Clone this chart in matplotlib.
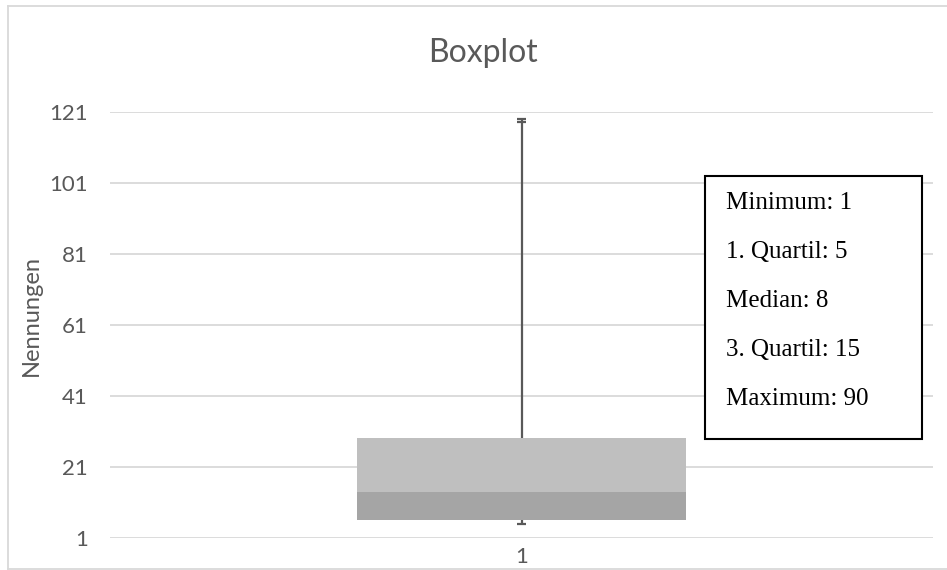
import matplotlib
matplotlib.use("Agg")
import matplotlib.pyplot as plt
from matplotlib.patches import Rectangle
from matplotlib.lines import Line2D

# ---- data ----
categories = ["1"]
lower_whisker = [5]
q1 = [6]
median = [14]
q3 = [29]
upper_whisker = [119]
upper_cap_extra = [118]
y_ticks = [1, 21, 41, 61, 81, 101, 121]
title = "Boxplot"
y_label = "Nennungen"
stat_labels = ["Minimum", "1. Quartil", "Median", "3. Quartil", "Maximum"]
stat_values = [1, 5, 8, 15, 90]

W, H = 947, 570
fig = plt.figure(figsize=(W / 100, H / 100), dpi=100)
fig.patch.set_facecolor("white")

def fx(px):
    return px / W

def fy(py):
    return 1 - py / H

ax_left, ax_right, ax_top, ax_bot = 110, 933, 111.7, 537.7
ax = fig.add_axes([fx(ax_left), fy(ax_bot), (ax_right - ax_left) / W, (ax_bot - ax_top) / H])
ax.set_xlim(0, 1)
ax.set_ylim(1, 121)

txt_col = "#595959"
sans = ["Lato", "DejaVu Sans"]

x = [0.5 + i for i in range(len(categories))]
bw = 0.4
# lower box segment (Q1 -> median) and upper segment (median -> Q3)
ax.bar(x, [m - a for m, a in zip(median, q1)], bottom=q1, width=bw, color="#A5A5A5", zorder=3)
ax.bar(x, [b - m for b, m in zip(q3, median)], bottom=median, width=bw, color="#BFBFBF", zorder=3)

wcol = "#595959"
cap = 0.006
for xi, lo, a, b, hi, hi2 in zip(x, lower_whisker, q1, q3, upper_whisker, upper_cap_extra):
    ax.plot([xi, xi], [b, hi], color=wcol, lw=1.6, zorder=4, solid_capstyle="butt")
    ax.plot([xi, xi], [lo, a], color=wcol, lw=1.6, zorder=2, solid_capstyle="butt")
    for yy in (lo, hi, hi2):
        ax.plot([xi - cap, xi + cap], [yy, yy], color=wcol, lw=1.6, zorder=4, solid_capstyle="butt")

ax.set_yticks(y_ticks)
ax.set_yticklabels([str(t) for t in y_ticks], fontsize=16, color=txt_col, family=sans)
ax.set_xticks(x)
ax.set_xticklabels(categories, fontsize=16, color=txt_col, family=sans)
ax.tick_params(axis="y", length=0, pad=16)
ax.tick_params(axis="x", length=0, pad=7)
ax.grid(axis="y", color="#D9D9D9", lw=1.3, zorder=0)
ax.set_axisbelow(True)
for s in ax.spines.values():
    s.set_visible(False)
ax.patch.set_alpha(0)

# y label
fig.text(fx(31), fy(315), y_label, rotation=90, ha="center", va="center",
         fontsize=17, color=txt_col, family=sans)

# title
fig.text(fx(482.5), fy(61.5), title, ha="center", va="baseline",
         fontsize=23, color=txt_col, family=sans)

# text box
bx0, by0, bx1, by1 = 705, 175.7, 922, 439
fig.patches.append(Rectangle((fx(bx0), fy(by1)), (bx1 - bx0) / W, (by1 - by0) / H,
                             transform=fig.transFigure, facecolor="white",
                             edgecolor="black", lw=1.5, zorder=5))
for i, (lab, val) in enumerate(zip(stat_labels, stat_values)):
    fig.text(fx(726), fy(209.3 + 49 * i), f"{lab}: {val}", ha="left", va="baseline",
             fontsize=18, color="black", family=["Liberation Serif", "DejaVu Serif"], zorder=6)

# chart border (light gray), right side extends beyond image
fig.add_artist(Line2D([fx(8), fx(8)], [fy(5.5), fy(569)], transform=fig.transFigure,
                      color="#D9D9D9", lw=1.3))
fig.add_artist(Line2D([fx(8), 1.01], [fy(5.5), fy(5.5)], transform=fig.transFigure,
                      color="#D9D9D9", lw=1.3))
fig.add_artist(Line2D([fx(8), 1.01], [fy(569), fy(569)], transform=fig.transFigure,
                      color="#D9D9D9", lw=1.3))

fig.savefig("out.png", dpi=100, facecolor="white")
